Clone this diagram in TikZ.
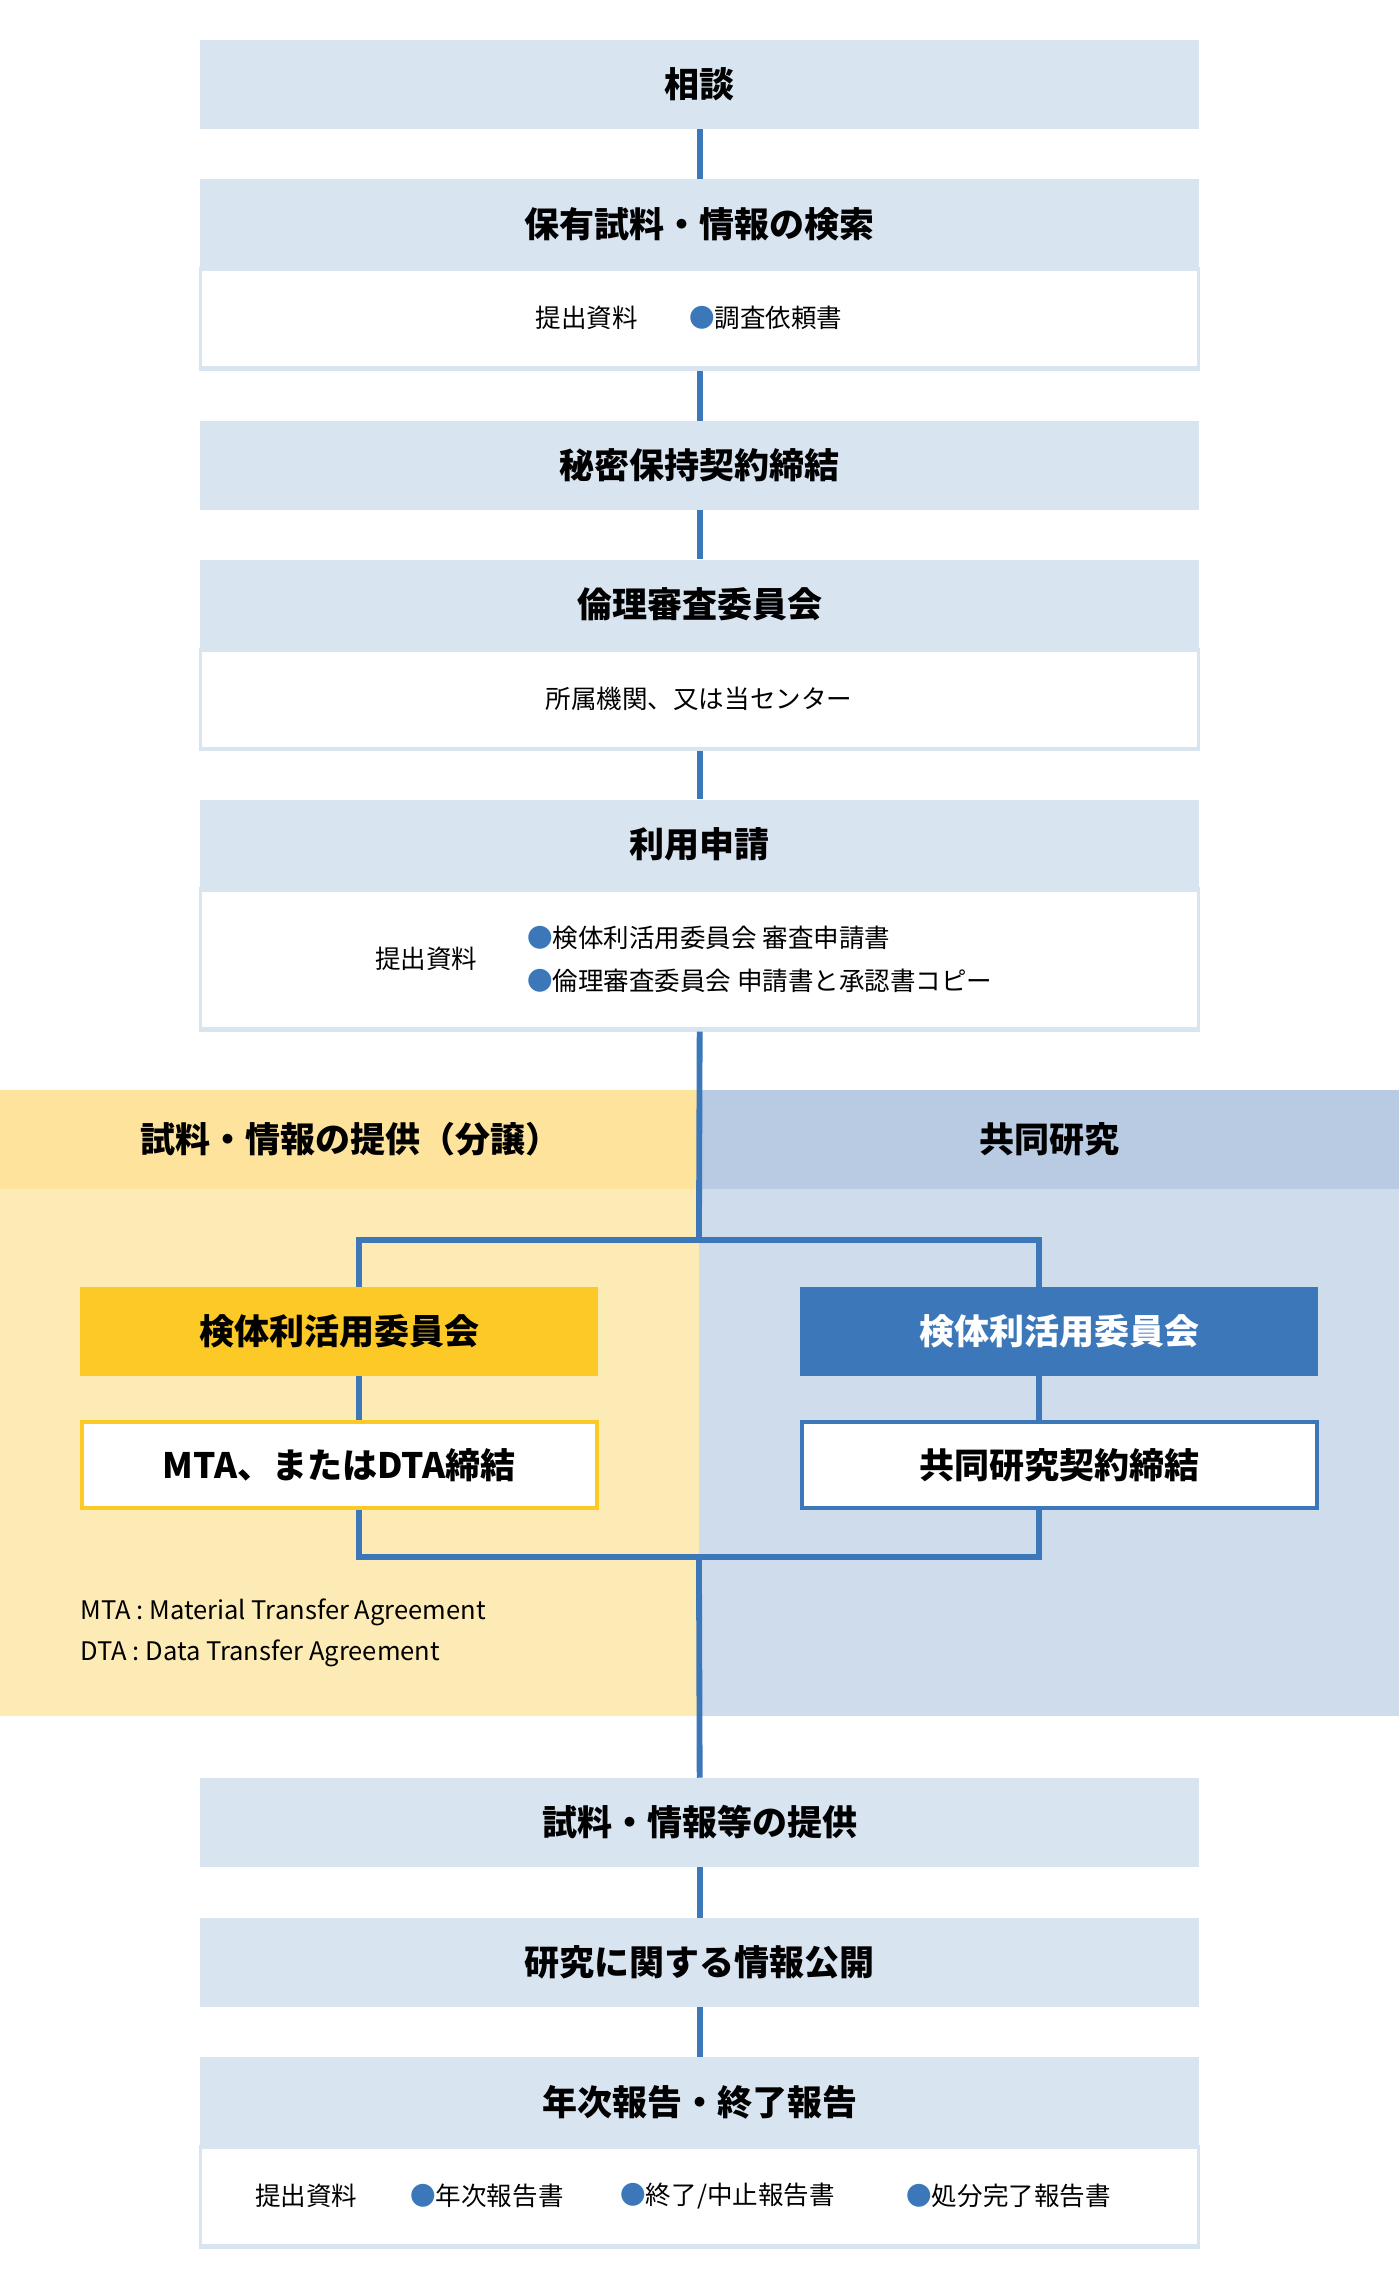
\documentclass[tikz,border=0pt]{standalone}
\usepackage{fontspec}
\setmainfont{Noto Sans CJK JP}
\newfontfamily\jpb{Noto Sans CJK JP Bold}
\definecolor{hdrc}{HTML}{D9E4F1}
\definecolor{linec}{HTML}{3C78B9}
\definecolor{ylt}{HTML}{FDEBB5}
\definecolor{yhd}{HTML}{FDE39C}
\definecolor{blt}{HTML}{CFDCEC}
\definecolor{bhd}{HTML}{B8CBE3}
\definecolor{yel}{HTML}{FDC926}
\definecolor{bul}{HTML}{3C78B9}
\begin{document}
\begin{tikzpicture}[x=1pt,y=-1pt,
 hdr/.style={fill=hdrc,minimum width=685pt,minimum height=61pt,inner sep=0pt,font=\fontsize{24}{28}\selectfont\bfseries},
 bodyb/.style={fill=white,draw=hdrc,line width=2pt,minimum width=684pt,inner sep=0pt},
 conn/.style={draw=linec,line width=4pt},
 sm/.style={font=\fontsize{17.5}{22}\selectfont,inner sep=0pt},
 big/.style={minimum width=355pt,minimum height=61pt,inner sep=0pt,font=\fontsize{24}{28}\selectfont\bfseries}]
\useasboundingbox (0,0) rectangle (959,1568);
\fill[white] (0,0) rectangle (959,1568);
% band
\fill[ylt] (0,747) rectangle (479,1176);
\fill[yhd] (0,747) rectangle (479,815);
\fill[blt] (479,747) rectangle (959,1176);
\fill[bhd] (479,747) rectangle (959,815);
\node[font=\fontsize{24}{28}\selectfont\bfseries] (lh) at (240,781) {試料・情報の提供（分譲）};
\node[font=\fontsize{24}{28}\selectfont\bfseries] (rh) at (719,781) {共同研究};
% coordinates
\coordinate (lt) at (479,850);
\coordinate (lb) at (479,1067);
% boxes positions
\node[hdr] (a) at (479.5,58) {相談};
\node[hdr] (b) at (479.5,153.5) {保有試料・情報の検索};
\node[bodyb,minimum height=69pt] (bb) at (479.5,218.5) {};
\node[hdr] (c) at (479.5,319) {秘密保持契約締結};
\node[hdr] (d) at (479.5,414) {倫理審査委員会};
\node[bodyb,minimum height=69pt] (db) at (479.5,479.5) {};
\node[hdr] (e) at (479.5,578.5) {利用申請};
\node[bodyb,minimum height=97pt] (eb) at (479.5,657.5) {};
\node[hdr] (f) at (479.5,1249) {試料・情報等の提供};
\node[hdr] (g) at (479.5,1345) {研究に関する情報公開};
\node[hdr] (h) at (479.5,1440.5) {年次報告・終了報告};
\node[bodyb,minimum height=69pt] (hb) at (479.5,1505.5) {};
% connectors (behind)
\begin{scope}[on background layer/.style={}]
\end{scope}
\draw[conn] (a.south) -- (b.north);
\draw[conn] (bb.south) -- (c.north);
\draw[conn] (c.south) -- (d.north);
\draw[conn] (db.south) -- (e.north);
\draw[conn] (eb.south) -- (lt);
\draw[conn] (lb) -- (f.north);
\draw[conn] (f.south) -- (g.north);
\draw[conn] (g.south) -- (h.north);
\draw[conn] (246,850) rectangle (712,1067);
% redraw boxes on top
\node[hdr] at (a) {相談};
\node[hdr] at (b) {保有試料・情報の検索};
\node[bodyb,minimum height=67pt] at (bb) {};
\node[hdr] at (c) {秘密保持契約締結};
\node[hdr] at (d) {倫理審査委員会};
\node[bodyb,minimum height=67pt] at (db) {};
\node[hdr] at (e) {利用申請};
\node[bodyb,minimum height=95pt] at (eb) {};
\node[hdr] at (f) {試料・情報等の提供};
\node[hdr] at (g) {研究に関する情報公開};
\node[hdr] at (h) {年次報告・終了報告};
\node[bodyb,minimum height=67pt] at (hb) {};
% body texts
\node[sm] (t1) at (402,218) {提出資料};
\node[sm,anchor=west] (t2) at (472,218) {\textcolor{bul}{●}調査依頼書};
\node[sm] (t3) at (479,479) {所属機関、又は当センター};
\node[sm] (t4) at (292,657) {提出資料};
\node[sm,anchor=west] (t5) at (361,643) {\textcolor{bul}{●}検体利活用委員会 審査申請書};
\node[sm,anchor=west] (t6) at (361,672) {\textcolor{bul}{●}倫理審査委員会 申請書と承認書コピー};
\node[sm] (t7) at (210,1505) {提出資料};
\node[sm,anchor=west] (t8) at (281,1505) {\textcolor{bul}{●}年次報告書};
\node[sm,anchor=west] (t9) at (425,1505) {\textcolor{bul}{●}終了/中止報告書};
\node[sm,anchor=west] (t10) at (621,1505) {\textcolor{bul}{●}処分完了報告書};
% section boxes
\node[big,fill=yel] (ly) at (232.5,912.5) {検体利活用委員会};
\node[big,fill=white,draw=yel,line width=3pt,minimum width=353pt,minimum height=59pt] (lm) at (232.5,1004) {MTA、またはDTA締結};
\node[big,fill=linec,text=white] (ry) at (726,912.5) {検体利活用委員会};
\node[big,fill=white,draw=linec,line width=3pt,minimum width=353pt,minimum height=59pt] (rm) at (726,1004) {共同研究契約締結};
\node[sm,anchor=west,align=left,font=\fontsize{17.5}{28.5}\selectfont] (mta) at (55,1119) {MTA : Material Transfer Agreement\\DTA : Data Transfer Agreement};
\end{tikzpicture}
\end{document}
